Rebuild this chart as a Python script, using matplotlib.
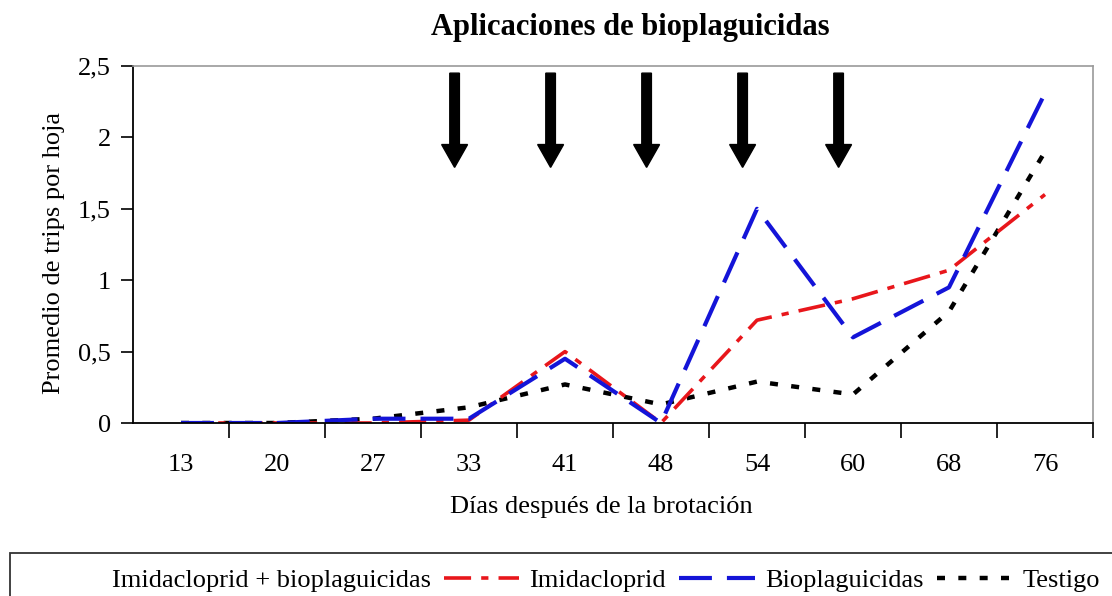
import numpy as np
import matplotlib.pyplot as plt
from matplotlib.lines import Line2D

plt.rcParams['font.family'] = ['Liberation Serif', 'DejaVu Serif']

# Data
dias = ['13', '20', '27', '33', '41', '48', '54', '60', '68', '76']
imidacloprid = [0, 0, 0, 0.02, 0.50, 0, 0.72, 0.87, 1.07, 1.60]
bioplaguicidas = [0, 0, 0.03, 0.03, 0.45, 0, 1.50, 0.60, 0.95, 2.31]
testigo = [0, 0, 0.03, 0.11, 0.27, 0.13, 0.29, 0.20, 0.78, 1.90]

# application arrows (category index positions)
aplicaciones = [2.85, 3.85, 4.85, 5.85, 6.85]
y_flecha_ini = 2.45
y_flecha_fin = 1.79

x = np.arange(len(dias))
fs = 19

fig = plt.figure(figsize=(11.12, 5.96), dpi=100)
ax = fig.add_axes([133 / 1112, 1 - 423 / 596, 960 / 1112, 357 / 596])

ax.plot(x, testigo, color='black', lw=3.2, linestyle=(0, (1.8, 3.0)), dash_capstyle='butt')
ax.plot(x, imidacloprid, color='#e8161b', lw=2.6, linestyle=(0, (7.5, 2.8, 2.0, 2.8)))
ax.plot(x, bioplaguicidas, color='#1414d8', lw=3.0, linestyle=(0, (7.9, 3.6)))

for xa in aplicaciones:
    ax.arrow(xa, y_flecha_ini, 0, y_flecha_fin - y_flecha_ini, width=0.1, head_width=0.27,
             head_length=0.16, length_includes_head=True, color='black')

ax.set_xlim(-0.5, len(dias) - 0.5)
ax.set_ylim(0, 2.5)

# ticks at category boundaries, labels at category centres
ax.set_xticks(np.arange(0.5, len(dias), 1.0))
ax.set_xticklabels([])
ax.set_xticks(x, minor=True)
ax.set_xticklabels(dias, minor=True, fontsize=fs)
ax.tick_params(axis='x', which='major', direction='out', length=11, width=1.2)
ax.tick_params(axis='x', which='minor', length=0, pad=22)

yt = [0, 0.5, 1, 1.5, 2, 2.5]
ax.set_yticks(yt)
ax.set_yticklabels(['0', '0,5', '1', '1,5', '2', '2,5'], fontsize=fs)
ax.tick_params(axis='y', direction='out', length=9, width=1.2, pad=7)

for s in ['top', 'right']:
    ax.spines[s].set_color('#9a9a9a')
    ax.spines[s].set_linewidth(1.2)
for s in ['left', 'bottom']:
    ax.spines[s].set_color('black')
    ax.spines[s].set_linewidth(1.3)

ax.set_ylabel('Promedio de trips por hoja', fontsize=fs)
ax.yaxis.set_label_coords(-0.071, 0.476)
ax.set_xlabel('Días después de la brotación', fontsize=fs)
ax.xaxis.set_label_coords(0.488, -0.205)

fig.text(630 / 1112, 1 - 28 / 596, 'Aplicaciones de bioplaguicidas', fontsize=22,
         fontweight='bold', ha='center', va='center')

handles = [Line2D([], [], color='none'),
           Line2D([], [], color='#e8161b', lw=2.6, linestyle=(0, (7.5, 2.8, 2.0, 2.8))),
           Line2D([], [], color='#1414d8', lw=3.0, linestyle=(0, (7.9, 3.6))),
           Line2D([], [], color='black', lw=3.2, linestyle=(0, (1.8, 3.0)))]
labels = ['Imidacloprid + bioplaguicidas', 'Imidacloprid', 'Bioplaguicidas', 'Testigo']
leg = fig.legend(handles, labels, loc='upper left', bbox_to_anchor=(10 / 1112, 1 - 553 / 596),
                 ncol=4, fontsize=fs, frameon=True, fancybox=False, borderaxespad=0,
                 handlelength=2.85, handletextpad=0.4, columnspacing=0.5, borderpad=0.6)
leg.get_frame().set_edgecolor('black')
leg.get_frame().set_linewidth(1.3)

fig.savefig('out.png', dpi=100)
